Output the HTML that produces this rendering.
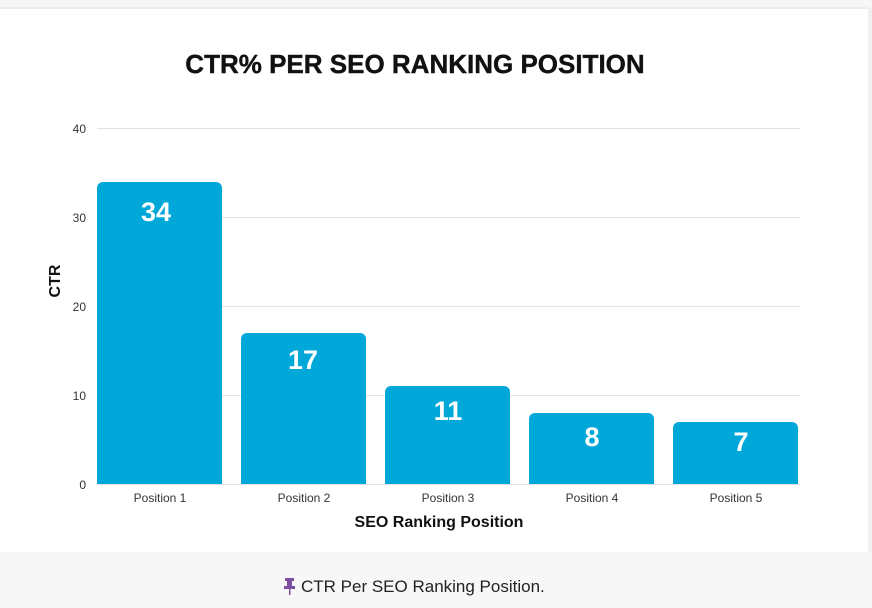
<!DOCTYPE html>
<html><head><style>
html,body{margin:0;padding:0;background:#fff;width:872px;height:608px;overflow:hidden}
</style></head><body>
<svg width="872" height="608" xmlns="http://www.w3.org/2000/svg" font-family="Liberation Sans, DejaVu Sans, sans-serif">
<rect x="0" y="0" width="872" height="608" fill="#fff"/>
<rect x="0" y="0" width="872" height="8" fill="#f6f6f6"/>
<rect x="0" y="7" width="868" height="2" fill="#ececec"/>
<rect x="868" y="8" width="4" height="544" fill="#f0f0f0"/>
<text x="415" y="73" text-anchor="middle" font-size="26" font-weight="bold" fill="#111" stroke="#111" stroke-width="0.4">CTR% PER SEO RANKING POSITION</text>
<g stroke="#e2e2e2" stroke-width="1">
<line x1="97" x2="800" y1="128.5" y2="128.5"/>
<line x1="97" x2="800" y1="217.5" y2="217.5"/>
<line x1="97" x2="800" y1="306.5" y2="306.5"/>
<line x1="97" x2="800" y1="395.5" y2="395.5"/>
<line x1="97" x2="800" y1="484.5" y2="484.5"/>
</g>
<g font-size="12" fill="#333" text-anchor="end">
<text x="86" y="133">40</text>
<text x="86" y="222">30</text>
<text x="86" y="311">20</text>
<text x="86" y="400">10</text>
<text x="86" y="489">0</text>
</g>
<text transform="translate(60,281) rotate(-90)" text-anchor="middle" font-size="16" font-weight="bold" fill="#111">CTR</text>
<g fill="#00a8da">
<path d="M97 484V188a6 6 0 0 1 6-6H216a6 6 0 0 1 6 6V484Z"/>
<path d="M241 484V339a6 6 0 0 1 6-6H360a6 6 0 0 1 6 6V484Z"/>
<path d="M385 484V392a6 6 0 0 1 6-6H504a6 6 0 0 1 6 6V484Z"/>
<path d="M529 484V419a6 6 0 0 1 6-6H648a6 6 0 0 1 6 6V484Z"/>
<path d="M673 484V428a6 6 0 0 1 6-6H792a6 6 0 0 1 6 6V484Z"/>
</g>
<g fill="#fff" font-size="27" font-weight="bold" text-anchor="middle">
<text x="156" y="221">34</text>
<text x="303" y="369">17</text>
<text x="448" y="420">11</text>
<text x="592" y="446">8</text>
<text x="741" y="451">7</text>
</g>
<g font-size="12" fill="#333" text-anchor="middle">
<text x="160" y="502">Position 1</text>
<text x="304" y="502">Position 2</text>
<text x="448" y="502">Position 3</text>
<text x="592" y="502">Position 4</text>
<text x="736" y="502">Position 5</text>
</g>
<text x="439" y="527" text-anchor="middle" font-size="16" font-weight="bold" fill="#111">SEO Ranking Position</text>
<rect x="0" y="552" width="872" height="56" fill="#f7f7f7"/>
<g fill="#7d4fa0">
<rect x="285" y="578" width="9" height="3"/>
<rect x="287" y="581" width="5" height="6"/>
<rect x="284" y="586" width="11" height="3"/>
<rect x="289" y="589" width="1.5" height="6"/>
</g>
<text x="301" y="592" font-size="17" fill="#222">CTR Per SEO Ranking Position.</text>
</svg>
</body></html>
